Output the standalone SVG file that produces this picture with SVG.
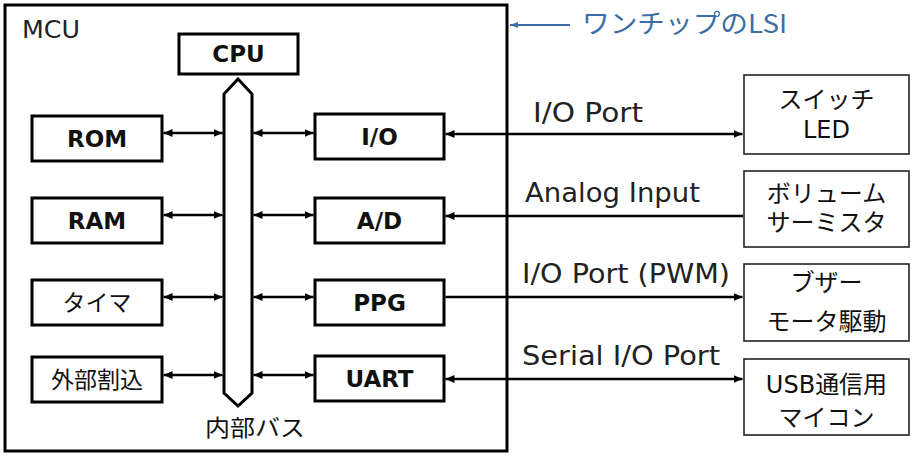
<svg xmlns="http://www.w3.org/2000/svg" width="920" height="461" viewBox="0 0 920 461">
<defs>
<style>
.box{fill:#fff;stroke:#000;stroke-width:3}
.ext{fill:#fff;stroke:#222;stroke-width:1.6}
.bold{font-family:"DejaVu Sans","Noto Sans CJK JP",sans-serif;font-weight:bold;font-size:23px;fill:#111;text-anchor:middle}
.jp{font-family:"Noto Sans CJK JP",sans-serif;font-size:23px;fill:#111;text-anchor:middle}
.ejp{font-family:"DejaVu Sans","Noto Sans CJK JP",sans-serif;font-size:24px;fill:#111;text-anchor:middle}
.lbl{font-family:"DejaVu Sans",sans-serif;font-size:26px;fill:#222}
.wire{stroke:#000;stroke-width:2.5;fill:none}
</style>
<marker id="ah" markerUnits="userSpaceOnUse" markerWidth="10" markerHeight="9" refX="9" refY="4.5" orient="auto-start-reverse">
<path d="M0,0.5 L9,4.5 L0,8.5 z" fill="#000"/>
</marker>
<marker id="ahb" markerUnits="userSpaceOnUse" markerWidth="9" markerHeight="8" refX="8" refY="4" orient="auto-start-reverse">
<path d="M0,1 L8,4 L0,7 z" fill="#3a6ea5"/>
</marker>
</defs>
<rect width="920" height="461" fill="#fff"/>

<g id="mcu">
<rect x="5" y="5" width="502" height="446" fill="none" stroke="#000" stroke-width="3"/>
<text x="22" y="38" font-family="DejaVu Sans,sans-serif" font-size="25" fill="#222" textLength="58" lengthAdjust="spacingAndGlyphs">MCU</text>
</g>

<g id="lsi-note">
<text x="582" y="33" font-family="Noto Sans CJK JP,sans-serif" font-size="26" fill="#3a6ea5" textLength="205" lengthAdjust="spacingAndGlyphs">ワンチップのLSI</text>
</g>

<g id="bus">
<polygon points="238,79 252,94 252,393 238,406 224,393 224,94" fill="#fff" stroke="#000" stroke-width="3"/>
<text class="jp" x="255" y="436" font-size="25" textLength="100" lengthAdjust="spacingAndGlyphs">内部バス</text>
</g>

<g id="cpu"><rect class="box" x="179" y="34" width="119" height="40"/><text class="bold" x="238.5" y="62">CPU</text></g>
<g id="rom"><rect class="box" x="32" y="116" width="130" height="45"/><text class="bold" x="97" y="147">ROM</text></g>
<g id="ram"><rect class="box" x="32" y="198" width="130" height="45"/><text class="bold" x="97" y="229">RAM</text></g>
<g id="timer"><rect class="box" x="32" y="280" width="130" height="45"/><text class="jp" x="97" y="311">タイマ</text></g>
<g id="irq"><rect class="box" x="32" y="357" width="130" height="45"/><text class="jp" x="97" y="388" font-size="24">外部割込</text></g>
<g id="io"><rect class="box" x="315" y="114" width="129" height="45"/><text class="bold" x="379.5" y="145">I/O</text></g>
<g id="ad"><rect class="box" x="315" y="198" width="129" height="45"/><text class="bold" x="379.5" y="229">A/D</text></g>
<g id="ppg"><rect class="box" x="315" y="280" width="129" height="45"/><text class="bold" x="379.5" y="311">PPG</text></g>
<g id="uart"><rect class="box" x="315" y="356" width="129" height="45"/><text class="bold" x="379.5" y="387">UART</text></g>

<g id="sw-led"><rect class="ext" x="744" y="75" width="165" height="79"/><text class="ejp" x="826.5" y="108" font-size="25">スイッチ</text><text class="ejp" x="826.5" y="138">LED</text></g>
<g id="vol"><rect class="ext" x="744" y="171" width="165" height="76"/><text class="ejp" x="826.5" y="202" font-size="25">ボリューム</text><text class="ejp" x="826.5" y="231" font-size="25">サーミスタ</text></g>
<g id="buzzer"><rect class="ext" x="744" y="264" width="165" height="77"/><text class="ejp" x="826.5" y="291" font-size="25">ブザー</text><text class="ejp" x="826.5" y="330" font-size="25">モータ駆動</text></g>
<g id="usb"><rect class="ext" x="744" y="359" width="165" height="76"/><text class="ejp" x="826.5" y="393" font-size="25">USB通信用</text><text class="ejp" x="826.5" y="426" font-size="25">マイコン</text></g>

<g id="connectors">
<line x1="570" y1="25" x2="510" y2="25" stroke="#3a6ea5" stroke-width="2" marker-end="url(#ahb)"/>
<line class="wire" x1="163.5" y1="133" x2="222.5" y2="133" marker-start="url(#ah)" marker-end="url(#ah)"/>
<line class="wire" x1="253.5" y1="133" x2="313.5" y2="133" marker-start="url(#ah)" marker-end="url(#ah)"/>
<line class="wire" x1="163.5" y1="215" x2="222.5" y2="215" marker-start="url(#ah)" marker-end="url(#ah)"/>
<line class="wire" x1="253.5" y1="215" x2="313.5" y2="215" marker-start="url(#ah)" marker-end="url(#ah)"/>
<line class="wire" x1="163.5" y1="297" x2="222.5" y2="297" marker-start="url(#ah)" marker-end="url(#ah)"/>
<line class="wire" x1="253.5" y1="297" x2="313.5" y2="297" marker-start="url(#ah)" marker-end="url(#ah)"/>
<line class="wire" x1="163.5" y1="375" x2="222.5" y2="375" marker-start="url(#ah)" marker-end="url(#ah)"/>
<line class="wire" x1="253.5" y1="375" x2="313.5" y2="375" marker-start="url(#ah)" marker-end="url(#ah)"/>
<line class="wire" x1="445.5" y1="134" x2="742.5" y2="134" marker-start="url(#ah)" marker-end="url(#ah)"/>
<line class="wire" x1="743" y1="216" x2="445.5" y2="216" marker-end="url(#ah)"/>
<line class="wire" x1="445.5" y1="297" x2="742.5" y2="297" marker-end="url(#ah)"/>
<line class="wire" x1="445.5" y1="379" x2="742.5" y2="379" marker-start="url(#ah)" marker-end="url(#ah)"/>
<text class="lbl" x="533" y="122" textLength="110" lengthAdjust="spacingAndGlyphs">I/O Port</text>
<text class="lbl" x="525" y="202" textLength="175" lengthAdjust="spacingAndGlyphs">Analog Input</text>
<text class="lbl" x="522" y="283" textLength="208" lengthAdjust="spacingAndGlyphs">I/O Port (PWM)</text>
<text class="lbl" x="522" y="365" textLength="198" lengthAdjust="spacingAndGlyphs">Serial I/O Port</text>
</g>
</svg>
